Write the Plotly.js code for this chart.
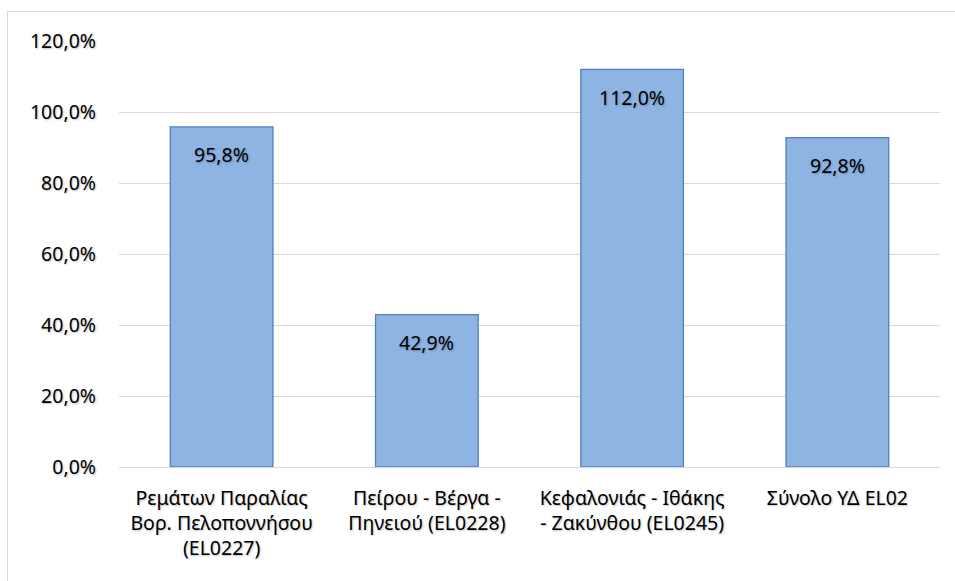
<!DOCTYPE html>
<html>
<head>
<meta charset="utf-8">
<script src="https://cdn.plot.ly/plotly-3.0.1.min.js"></script>
<style>
html,body{margin:0;padding:0;background:#fff;}
#chart{width:955px;height:581px;position:relative;}
#frame{position:absolute;left:7px;top:11px;width:960px;height:600px;border:1px solid #d9d9d9;pointer-events:none;}
</style>
</head>
<body>
<div id="chart"></div>
<div id="frame"></div>
<script>
const categories = [
  "Ρεμάτων Παραλίας<br>Βορ. Πελοποννήσου<br>(EL0227)",
  "Πείρου - Βέργα -<br>Πηνειού (EL0228)",
  "Κεφαλονιάς - Ιθάκης<br>- Ζακύνθου (EL0245)",
  "Σύνολο ΥΔ EL02"
];
const values = [95.8, 42.9, 112.0, 92.8];
const valueLabels = ["95,8%", "42,9%", "112,0%", "92,8%"];
const tickVals = [0, 20, 40, 60, 80, 100, 120];
const tickText = ["0,0%", "20,0%", "40,0%", "60,0%", "80,0%", "100,0%", "120,0%"];

const fontFamily = "'Noto Sans', 'Open Sans', sans-serif";
const shadow = "1px 1px 2px rgba(0,0,0,0.25)";
const fsize = 19.5;

const trace = {
  type: 'bar',
  x: categories,
  y: values,
  marker: {color: '#8eb4e3', line: {color: '#4f81bd', width: 1.3}},
  hoverinfo: 'none'
};

const annotations = values.map((v, i) => ({
  x: categories[i], y: v, xref: 'x', yref: 'y',
  text: valueLabels[i], showarrow: false,
  yanchor: 'middle', yshift: -28,
  font: {family: fontFamily, size: fsize, color: '#000', shadow: shadow}
}));

const layout = {
  width: 955, height: 581,
  margin: {l: 119, r: 15, t: 41, b: 114},
  paper_bgcolor: '#fff', plot_bgcolor: '#fff',
  bargap: 0.5,
  showlegend: false,
  font: {family: fontFamily, size: fsize, color: '#000'},
  xaxis: {
    type: 'category',
    showgrid: false, zeroline: false,
    showline: false,
    ticks: '', ticklen: 0,
    ticklabelstandoff: 17,
    tickfont: {family: fontFamily, size: fsize, color: '#000', shadow: shadow},
    fixedrange: true
  },
  yaxis: {
    range: [0, 120],
    tickvals: tickVals, ticktext: tickText,
    showgrid: true, gridcolor: '#d9d9d9', gridwidth: 1,
    zeroline: true, zerolinecolor: '#d9d9d9', zerolinewidth: 1,
    showline: false, ticks: '',
    ticklabelstandoff: 22,
    tickfont: {family: fontFamily, size: fsize, color: '#000', shadow: shadow},
    fixedrange: true
  },
  annotations: annotations
};

Plotly.newPlot('chart', [trace], layout, {displayModeBar: false, staticPlot: true});
</script>
</body>
</html>
